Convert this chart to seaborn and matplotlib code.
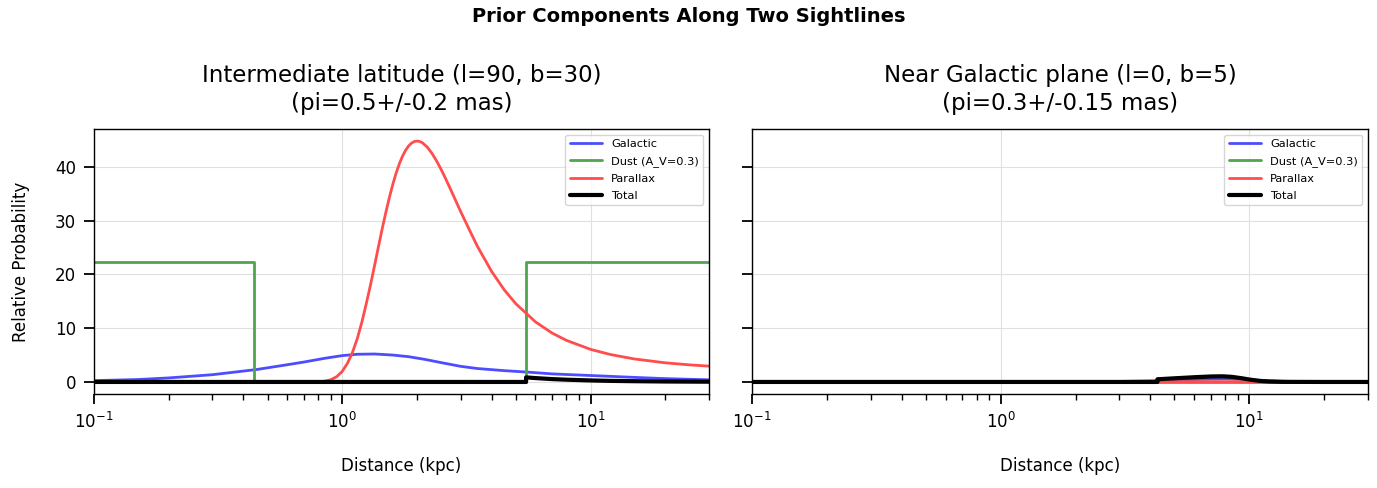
import matplotlib
matplotlib.use("Agg")
import matplotlib.pyplot as plt
import seaborn as sns
import pandas as pd

# ---------------- data ----------------
# Left panel: Intermediate latitude
gal_left_d = [0.1, 0.15, 0.2, 0.3, 0.45, 0.6, 0.7, 0.85, 1.0, 1.15, 1.35, 1.6, 1.85,
              2.15, 2.5, 3.0, 3.5, 4.5, 5.5, 7.0, 10.0, 15.0, 20.0, 30.0]
gal_left = [0.25, 0.45, 0.75, 1.35, 2.3, 3.2, 3.7, 4.4, 4.9, 5.15, 5.2, 5.0, 4.7,
            4.2, 3.6, 2.9, 2.5, 2.1, 1.85, 1.5, 1.2, 0.85, 0.62, 0.4]

dust_left_d = [0.1, 0.44, 0.44, 5.5, 5.5, 30.0]
dust_left = [22.4, 22.4, 0.0, 0.0, 22.4, 22.4]

par_left_d = [0.1, 0.5, 0.7, 0.75, 0.8, 0.85, 0.9, 0.95, 1.0, 1.05, 1.1, 1.15, 1.2, 1.25,
              1.3, 1.35, 1.4, 1.45, 1.5, 1.55, 1.6, 1.65, 1.7, 1.75, 1.8, 1.85, 1.9, 1.95,
              2.0, 2.05, 2.1, 2.2, 2.3, 2.4, 2.5, 2.6, 2.7, 2.8, 3.0, 3.25, 3.5, 4.0, 4.5,
              5.0, 6.0, 7.0, 8.0, 10.0, 12.0, 15.0, 20.0, 25.0, 30.0]
par_left = [0.0, 0.0, 0.001, 0.008, 0.04, 0.15, 0.42, 0.99, 1.97, 3.5, 5.53, 8.1, 11.17, 14.6,
            18.1, 21.7, 25.24, 28.6, 31.66, 34.42, 36.85, 38.92, 40.64, 42.03, 43.1, 43.89, 44.41, 44.71,
            44.8, 44.72, 44.5, 43.66, 42.48, 41.08, 39.54, 37.93, 36.31, 34.71, 31.66, 28.3, 25.24, 20.51, 17.08,
            14.55, 11.17, 9.09, 7.73, 6.06, 5.11, 4.28, 3.56, 3.18, 2.94]

tot_left_d = [0.1, 5.5, 5.5, 6.0, 7.0, 8.0, 10.0, 12.0, 15.0, 20.0, 30.0]
tot_left = [0.0, 0.0, 0.85, 0.72, 0.53, 0.42, 0.28, 0.2, 0.14, 0.085, 0.045]

# Right panel: Near Galactic plane
gal_right_d = [0.1, 1.0, 2.0, 3.0, 4.0, 5.0, 6.0, 7.0, 8.0, 9.0, 10.0, 12.0, 15.0, 20.0, 30.0]
gal_right = [0.0, 0.02, 0.05, 0.1, 0.2, 0.32, 0.45, 0.55, 0.58, 0.52, 0.4, 0.22, 0.08, 0.02, 0.0]

dust_right_d = [0.1, 30.0]
dust_right = [0.0, 0.0]

par_right_d = [0.1, 1.0, 2.0, 3.0, 4.0, 6.0, 8.0, 10.0, 12.0, 15.0, 20.0, 30.0]
par_right = [0.0, 0.0, 0.02, 0.05, 0.06, 0.06, 0.05, 0.04, 0.03, 0.02, 0.01, 0.01]

tot_right_d = [0.1, 4.27, 4.27, 5.0, 6.0, 7.0, 7.8, 8.5, 9.3, 10.0, 11.0, 12.0, 13.5, 20.0, 30.0]
tot_right = [0.0, 0.0, 0.5, 0.68, 0.88, 1.02, 1.05, 0.95, 0.7, 0.45, 0.2, 0.08, 0.02, 0.0, 0.0]

titles = ["Intermediate latitude (l=90, b=30)\n(pi=0.5+/-0.2 mas)",
          "Near Galactic plane (l=0, b=5)\n(pi=0.3+/-0.15 mas)"]
labels = ["Galactic", "Dust (A_V=0.3)", "Parallax", "Total"]

# ---------------- plotting ----------------
sns.set_theme(style="ticks")
plt.rcParams["font.family"] = ["DejaVu Sans"]
plt.rcParams.update({
    "text.color": "black", "axes.labelcolor": "black", "axes.edgecolor": "black",
    "xtick.color": "black", "ytick.color": "black",
})

fig = plt.figure(figsize=(13.77, 4.88), dpi=100)
axL = fig.add_axes([94 / 1377, 1 - 394 / 488, 615 / 1377, 265 / 488])
axR = fig.add_axes([752 / 1377, 1 - 394 / 488, 616 / 1377, 265 / 488], sharey=axL)

panels = [
    (axL, [(gal_left_d, gal_left), (dust_left_d, dust_left), (par_left_d, par_left), (tot_left_d, tot_left)]),
    (axR, [(gal_right_d, gal_right), (dust_right_d, dust_right), (par_right_d, par_right), (tot_right_d, tot_right)]),
]
colors = [(0.3, 0.3, 1.0), (0.3, 0.65, 0.3), (1.0, 0.3, 0.3), "black"]
widths = [2.0, 2.0, 2.0, 3.0]

for i, (ax, series) in enumerate(panels):
    for (d, v), lab, c, lw in zip(series, labels, colors, widths):
        df = pd.DataFrame({"d": d, "v": v})
        sns.lineplot(data=df, x="d", y="v", ax=ax, color=c, lw=lw, label=lab,
                     sort=False, estimator=None)
    ax.set_xscale("log")
    ax.set_xlim(0.1, 30)
    ax.grid(True, which="major", color="#e0e0e0", lw=0.8)
    ax.set_axisbelow(True)
    ax.set_title(titles[i], fontsize=16.5, pad=14, linespacing=1.25)
    ax.set_xlabel("Distance (kpc)", fontsize=12, labelpad=18)
    ax.tick_params(axis="both", which="major", labelsize=12, length=7, width=1.3, pad=6)
    ax.tick_params(axis="both", which="minor", length=4, width=1.0)
    leg = ax.legend(loc="upper right", fontsize=8.2, frameon=True, handlelength=2.8,
                    labelspacing=0.6)
    for sp in ax.spines.values():
        sp.set_linewidth(1.0)
        sp.set_visible(True)

axL.set_ylabel("Relative Probability", fontsize=12, labelpad=18)
axR.set_ylabel("")
plt.setp(axR.get_yticklabels(), visible=False)
axL.set_yticks([0, 10, 20, 30, 40])

fig.suptitle("Prior Components Along Two Sightlines", fontsize=14, fontweight="bold", y=0.985)

fig.savefig("out.png", dpi=100)
